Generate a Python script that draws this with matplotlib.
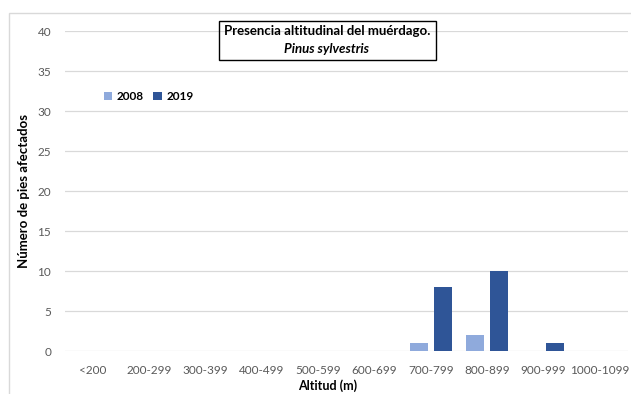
import numpy as np
import matplotlib.pyplot as plt
from matplotlib.patches import Rectangle

categories = ["<200", "200-299", "300-399", "400-499", "500-599",
              "600-699", "700-799", "800-899", "900-999", "1000-1099"]
v2008 = [0, 0, 0, 0, 0, 0, 1, 2, 0, 0]
v2019 = [0, 0, 0, 0, 0, 0, 8, 10, 1, 0]

plt.rcParams['font.family'] = ['Lato', 'DejaVu Sans']

fig = plt.figure(figsize=(6.31, 3.94), dpi=100)
ax = fig.add_axes([0.103, 0.109, 0.892, 0.812])

x = np.arange(len(categories))
w = 0.32
ax.bar(x - 0.21, v2008, w, color="#8faadc", label="2008", zorder=3)
ax.bar(x + 0.21, v2019, w, color="#2f5597", label="2019", zorder=3)

ax.set_xlim(-0.5, len(categories) - 0.5)
ax.set_ylim(0, 40)
ax.set_yticks(range(0, 41, 5))
ax.set_xticks(x)
ax.set_xticklabels(categories)
ax.grid(axis="y", color="#d9d9d9", lw=0.9, zorder=0)
for s in ax.spines.values():
    s.set_visible(False)
ax.tick_params(length=0, labelsize=8.5, colors="#595959", pad=10)
ax.tick_params(axis="y", pad=10)

ax.set_xlabel("Altitud (m)", fontsize=9, fontweight="bold")
ax.xaxis.set_label_coords(0.466, -0.087)
ax.set_ylabel("Número de pies afectados", fontsize=9.5, fontweight="bold")
ax.yaxis.set_label_coords(-0.062, 0.5)

ax.legend(loc="center left", bbox_to_anchor=(0.05, 0.795), ncol=2, frameon=False,
          handlelength=0.7, handleheight=0.7, columnspacing=0.8,
          handletextpad=0.4, prop={"weight": "bold", "size": 8.5})

fig.text(0.518, 1 - 31 / 394, "Presencia altitudinal del muérdago.", ha="center", va="center",
         fontsize=9.5, fontweight="bold")
fig.text(0.518, 1 - 49 / 394, "Pinus sylvestris", ha="center", va="center",
         fontsize=9.5, fontweight="bold", style="italic")
fig.patches.append(Rectangle((219 / 631, 1 - 60 / 394), 217 / 631, 39 / 394,
                             transform=fig.transFigure, fill=False,
                             edgecolor="black", lw=1))

# outer chart frame
fig.patches.append(Rectangle((9 / 631, -0.05), 1.0, 1 - 13 / 394 + 0.05,
                             transform=fig.transFigure, fill=False,
                             edgecolor="#d9d9d9", lw=1))

fig.savefig("out.png", dpi=100)
